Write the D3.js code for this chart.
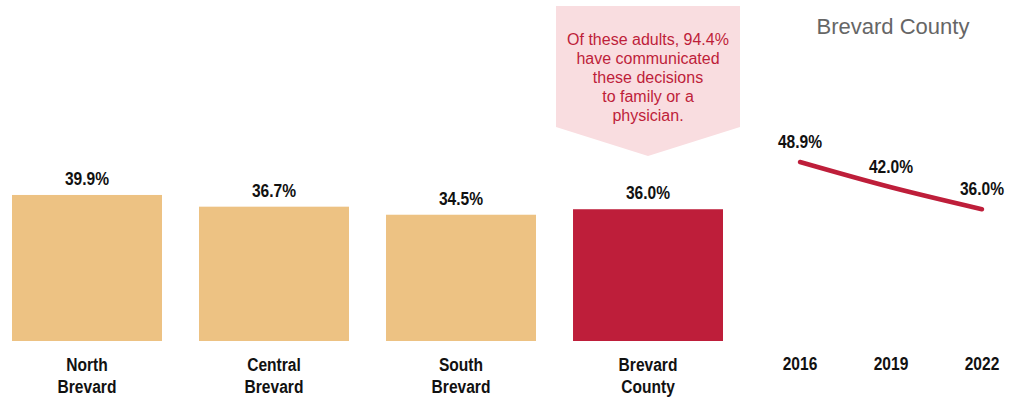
<!DOCTYPE html>
<html><head><meta charset="utf-8">
<script src="https://cdn.jsdelivr.net/npm/d3@7"></script>
<style>
body{margin:0;background:#fff;}
svg{display:block;}
.lbl{font-family:"Liberation Sans",Arial,sans-serif;font-weight:bold;fill:#111;}
</style></head>
<body>
<svg id="c" width="1010" height="398"></svg>
<script>
const categories = [["North","Brevard"],["Central","Brevard"],["South","Brevard"],["Brevard","County"]];
const values = [39.9, 36.7, 34.5, 36.0];
const barColors = ["#EDC283","#EDC283","#EDC283","#BE1E3A"];
const years = ["2016","2019","2022"];
const trend = [48.9, 42.0, 36.0];
const title = "Brevard County";
const callout = ["Of these adults, 94.4%","have communicated","these decisions","to family or a","physician."];

const svg = d3.select("#c");
const y = d3.scaleLinear().domain([0, 40]).range([341, 194.6]);
const x = d3.scaleBand().domain(d3.range(values.length)).range([12, 723]).paddingInner(0.198).paddingOuter(0);
const SX = 0.82, FS = 19;
const tr = (px, py) => `translate(${px},${py}) scale(${SX},1)`;

// callout
const cx0 = 556, cx1 = 740, cyTop = 6, cyBot = 127, tipY = 156;
svg.append("path")
  .attr("d", `M${cx0},${cyTop}L${cx1},${cyTop}L${cx1},${cyBot}L${(cx0+cx1)/2},${tipY}L${cx0},${cyBot}Z`)
  .attr("fill", "#F9DDE0");
svg.append("g").selectAll("text").data(callout).join("text")
  .attr("x", (cx0+cx1)/2).attr("y", (d,i)=>45+i*19)
  .attr("text-anchor","middle")
  .attr("font-family","'Liberation Sans',Arial,sans-serif").attr("font-size",16)
  .attr("fill","#BE1E3A").text(d=>d);

// bars
svg.append("g").selectAll("rect").data(values).join("rect")
  .attr("x",(d,i)=>x(i)).attr("width",x.bandwidth())
  .attr("y",d=>y(d)).attr("height",d=>y(0)-y(d))
  .attr("fill",(d,i)=>barColors[i]);
svg.append("g").selectAll("text").data(values).join("text")
  .attr("class","lbl").attr("font-size",FS).attr("text-anchor","middle")
  .attr("transform",(d,i)=>tr(x(i)+x.bandwidth()/2, y(d)-10))
  .text(d=>d.toFixed(1)+"%");
const cat = svg.append("g").selectAll("text").data(categories).join("text")
  .attr("class","lbl").attr("font-size",FS).attr("text-anchor","middle")
  .attr("transform",(d,i)=>tr(x(i)+x.bandwidth()/2, 371));
cat.selectAll("tspan").data(d=>d).join("tspan")
  .attr("x",0).attr("dy",(d,i)=>i===0?0:22).text(d=>d);

// trend line
const xp = d3.scalePoint().domain(years).range([800, 982]);
svg.append("path").datum(trend)
  .attr("d", d3.line().x((d,i)=>xp(years[i])).y(d=>y(d)).curve(d3.curveMonotoneX))
  .attr("fill","none").attr("stroke","#BE1E3A").attr("stroke-width",4.5).attr("stroke-linecap","round");
svg.append("g").selectAll("text").data(trend).join("text")
  .attr("class","lbl").attr("font-size",FS).attr("text-anchor","middle")
  .attr("transform",(d,i)=>tr(xp(years[i]), y(d)-14))
  .text(d=>d.toFixed(1)+"%");
svg.append("g").selectAll("text").data(years).join("text")
  .attr("class","lbl").attr("font-size",FS).attr("text-anchor","middle")
  .attr("transform",d=>tr(xp(d), 370)).text(d=>d);

svg.append("text").attr("x",893).attr("y",34).attr("text-anchor","middle")
  .attr("font-family","'Liberation Sans',Arial,sans-serif").attr("font-size",22)
  .attr("fill","#666").text(title);
</script>
</body></html>
